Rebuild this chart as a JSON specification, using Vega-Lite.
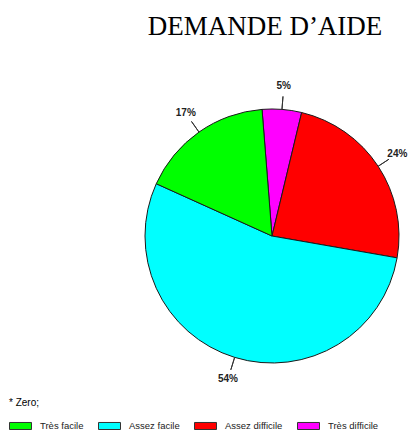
{
  "$schema": "https://vega.github.io/schema/vega-lite/v6.json",
  "width": 292,
  "height": 392,
  "autosize": "none",
  "padding": {"left": 126, "top": 40, "right": 0, "bottom": 0},
  "background": "white",
  "title": {"text": "DEMANDE D’AIDE", "font": "Liberation Serif", "fontSize": 27, "fontWeight": "normal", "color": "#000", "anchor": "middle", "offset": -1, "dx": -7},
  "config": {"view": {"stroke": null}},
  "data": {"values": [
    {"cat": "Très difficile", "v": 5},
    {"cat": "Assez difficile", "v": 24},
    {"cat": "Assez facile", "v": 54},
    {"cat": "Très facile", "v": 17}
  ]},
  "transform": [
    {"window": [{"op": "sum", "field": "v", "as": "cum"}], "frame": [null, 0]},
    {"calculate": "datum.cum - datum.v", "as": "start"},
    {"calculate": "datum.cum - datum.v / 2", "as": "mid"},
    {"calculate": "datum.v + '%'", "as": "lab"}
  ],
  "layer": [
    {
      "mark": {"type": "arc", "radius": 127, "stroke": "#1a1a1a", "strokeWidth": 1},
      "encoding": {
        "theta": {"field": "start", "type": "quantitative", "stack": null, "scale": {"domain": [0, 100], "range": [-0.0785, 6.2047]}},
        "theta2": {"field": "cum"},
        "color": {"field": "cat", "type": "nominal",
          "scale": {"domain": ["Très facile", "Assez facile", "Assez difficile", "Très difficile"], "range": ["#00ff00", "#00ffff", "#ff0000", "#ff00ff"]},
          "legend": {"orient": "none", "legendX": -117, "legendY": 358, "direction": "horizontal", "title": "* Zero;", "titleFont": "Liberation Sans", "titleFontSize": 10, "titleFontWeight": "normal", "titleColor": "#000", "titlePadding": 6,
            "labelFont": "Liberation Sans", "labelFontSize": 9.5, "labelColor": "#222", "labelOffset": 8, "columnPadding": 12,
            "symbolType": "M-1,-0.32H1V0.32H-1Z", "symbolSize": 484, "symbolStrokeColor": "#333", "symbolStrokeWidth": 1}}
      }
    },
    {
      "mark": {"type": "arc", "radius": 140, "radius2": 127, "stroke": "#333", "strokeWidth": 1, "fill": null},
      "encoding": {
        "theta": {"field": "mid", "type": "quantitative", "stack": null, "scale": {"domain": [0, 100], "range": [-0.0785, 6.2047]}},
        "theta2": {"field": "mid"}
      }
    },
    {
      "mark": {"type": "text", "radius": 150, "font": "Liberation Sans", "fontSize": 10, "fontWeight": "bold", "color": "#222"},
      "encoding": {
        "theta": {"field": "mid", "type": "quantitative", "stack": null, "scale": {"domain": [0, 100], "range": [-0.0785, 6.2047]}},
        "text": {"field": "lab"}
      }
    }
  ]
}
